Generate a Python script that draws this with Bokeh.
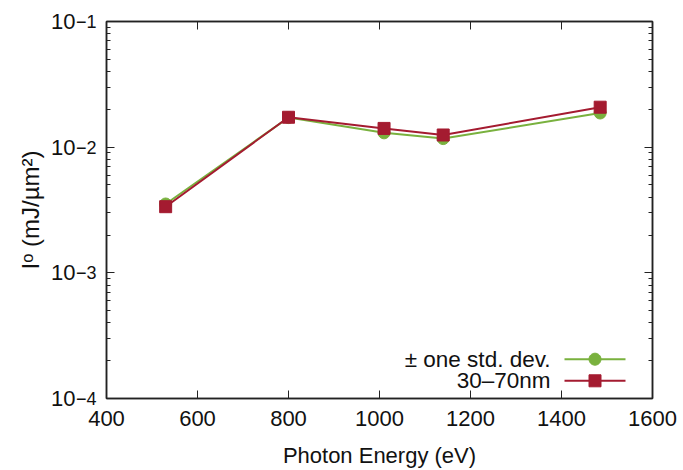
import math
from bokeh.plotting import figure
from bokeh.models import (FixedTicker, LinearAxis, LogAxis, CustomLabelingPolicy,
                          CustomJSTickFormatter, Label, PolyAnnotation, BoxAnnotation, Range1d)
from bokeh.embed import file_html
from bokeh.resources import INLINE

# ---- data ----
energy = [530, 800, 1010, 1140, 1485]
std_dev = [3.53e-3, 1.72e-2, 1.30e-2, 1.17e-2, 1.87e-2]
nm30_70 = [3.36e-3, 1.73e-2, 1.41e-2, 1.25e-2, 2.08e-2]
series_labels = ["\u00b1 one std. dev.", "30\u201370nm"]
x_ticks = [400, 600, 800, 1000, 1200, 1400, 1600]
y_ticks = [1e-4, 1e-3, 1e-2, 1e-1]
y_tick_base = "10"
y_tick_exps = ["\u22124", "\u22123", "\u22122", "\u22121"]
y_minor = [m * 10.0 ** e for e in range(-4, -1) for m in range(2, 10)]
x_label = "Photon Energy (eV)"
y_label = "I\u1d52 (mJ/\u00b5m\u00b2)"

GREEN = "#79B13E"
RED = "#A41B30"
INK = "#111111"
FONT = "Liberation Sans"
FS = "22px"
W, H = 683, 470
FL, FR, FT, FB = 106, 652, 21, 401   # frame edges (canvas px)

p = figure(width=W, height=H, y_axis_type="log",
           x_range=Range1d(400, 1600), y_range=Range1d(1e-4, 1e-1),
           output_backend="svg", toolbar_location=None,
           min_border_left=FL, min_border_right=W - FR, min_border_top=FT,
           min_border_bottom=H - FB)
p.grid.visible = False
p.outline_line_color = "#222222"
p.outline_line_width = 1.5
p.background_fill_color = "white"
p.border_fill_color = "white"

hide_all = CustomLabelingPolicy(code="""
for (const i of indices) { indices.unset(i) }
return indices
""")

def style_axis(ax, show_labels=True):
    ax.axis_line_color = "#222222"
    ax.axis_line_width = 1.5
    ax.major_tick_in = 8
    ax.major_tick_out = 0
    ax.minor_tick_in = 4
    ax.minor_tick_out = 0
    ax.major_tick_line_color = "#222222"
    ax.minor_tick_line_color = "#222222"
    ax.major_label_text_font = FONT
    ax.major_label_text_color = INK
    ax.axis_label_text_font = FONT
    ax.axis_label_text_font_size = FS
    ax.axis_label_text_font_style = "normal"
    ax.axis_label_text_color = INK
    if show_labels:
        ax.major_label_text_font_size = FS
        ax.major_label_standoff = 12
    else:
        ax.major_label_text_font_size = "8px"
        ax.major_label_standoff = 0
        ax.major_label_policy = hide_all

# bottom axis
xb = p.xaxis[0]
xb.ticker = FixedTicker(ticks=x_ticks)
style_axis(xb)
xb.axis_label = x_label
xb.axis_label_standoff = 14

# left axis (inner): ticks + superscript exponents
yl = p.yaxis[0]
yl.ticker = FixedTicker(ticks=y_ticks, minor_ticks=y_minor)
style_axis(yl)
yl.formatter = CustomJSTickFormatter(args=dict(yvals=y_ticks, exps=y_tick_exps), code="""
let best = 0, bd = Infinity;
for (let i = 0; i < yvals.length; i++) {
  const d = Math.abs(Math.log10(yvals[i]) - Math.log10(tick));
  if (d < bd) { bd = d; best = i; }
}
return exps[best];
""")
yl.major_label_text_font_size = "18px"
yl.major_label_text_baseline = "bottom"
yl.major_label_standoff = 10

# left axis (outer): the "10" bases and the axis title
yo = LogAxis(ticker=FixedTicker(ticks=y_ticks))
style_axis(yo)
yo.axis_line_color = None
yo.major_tick_line_color = None
yo.minor_tick_line_color = None
yo.formatter = CustomJSTickFormatter(args=dict(basetxt=y_tick_base), code="return basetxt;")
yo.major_label_standoff = -3
yo.major_label_text_baseline = "middle"
yo.axis_label = y_label
yo.axis_label_text_font_size = "24px"
yo.axis_label_standoff = 4
p.add_layout(yo, "left")

# mirrored ticks (top/right)
xt = LinearAxis(ticker=FixedTicker(ticks=x_ticks))
style_axis(xt, show_labels=False)
p.add_layout(xt, "above")
yr = LogAxis(ticker=FixedTicker(ticks=y_ticks, minor_ticks=y_minor))
style_axis(yr, show_labels=False)
p.add_layout(yr, "right")

# ---- series ----
p.line(energy, std_dev, line_color=GREEN, line_width=2)
p.scatter(energy, std_dev, marker="circle", size=12, fill_color=GREEN, line_color=GREEN)
p.line(energy, nm30_70, line_color=RED, line_width=2)
p.scatter(energy, nm30_70, marker="square", size=12, fill_color=RED, line_color=RED)

# ---- legend (gnuplot-style: text, then sample on the right); frame-relative px ----
def legend_entry(label, y_img, color, marker):
    yb = FB - y_img
    p.add_layout(Label(x=550 - FL, y=yb, x_units="screen", y_units="screen",
                       text=label, text_align="right", text_baseline="middle",
                       text_font=FONT, text_font_size="22.5px", text_color=INK))
    p.add_layout(PolyAnnotation(xs=[564 - FL, 625 - FL, 564 - FL], ys=[yb] * 3,
                                xs_units="screen", ys_units="screen",
                                line_color=color, line_alpha=1, line_width=2, fill_alpha=0))
    cx = 594.5 - FL
    if marker == "circle":
        r = 6
        n = 32
        xs = [cx + r * math.cos(2 * math.pi * k / n) for k in range(n)]
        ys = [yb + r * math.sin(2 * math.pi * k / n) for k in range(n)]
        p.add_layout(PolyAnnotation(xs=xs, ys=ys, xs_units="screen", ys_units="screen",
                                    line_color=color, line_alpha=1,
                                    fill_color=color, fill_alpha=1))
    else:
        h = 6
        p.add_layout(BoxAnnotation(left=cx - h, right=cx + h, bottom=yb - h, top=yb + h,
                                   left_units="screen", right_units="screen",
                                   top_units="screen", bottom_units="screen",
                                   line_color=color, line_alpha=1,
                                   fill_color=color, fill_alpha=1))

legend_entry(series_labels[0], 361.7, GREEN, "circle")
legend_entry(series_labels[1], 383.3, RED, "square")

open("out.html", "w").write(file_html(p, INLINE))
